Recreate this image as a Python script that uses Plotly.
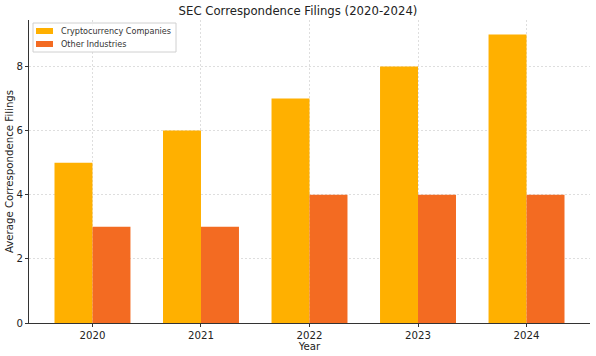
import plotly.graph_objects as go

years = ["2020", "2021", "2022", "2023", "2024"]
crypto = [5, 6, 7, 8, 9]
other = [3, 3, 4, 4, 4]
yticks = [0, 2, 4, 6, 8]
series_names = ["Cryptocurrency Companies", "Other Industries"]
series_colors = ["#FFB000", "#F36B22"]

FONT = "DejaVu Sans"
TXT = "#222"

W, H = 596, 356
ML, MR, MT, MB = 29, 6, 20, 33
PW, PH = W - ML - MR, H - MT - MB


def px(x):
    return (x - ML) / PW


def py(y):
    return (H - MB - y) / PH


fig = go.Figure()
for name, vals, col in zip(series_names, [crypto, other], series_colors):
    fig.add_trace(go.Bar(x=years, y=vals, name=name, showlegend=False,
                         marker=dict(color=col, line=dict(width=0))))

grid = dict(showgrid=True, gridcolor="#dedede", griddash="2px,2px", gridwidth=0.8)

shapes = [dict(type="rect", xref="paper", yref="paper",
               x0=px(33), x1=px(176), y0=py(52), y1=py(23),
               line=dict(color="#d0d0d0", width=1), fillcolor="rgba(255,255,255,0.8)",
               layer="above")]
annotations = []
for i, (name, col) in enumerate(zip(series_names, series_colors)):
    yc = 31 + 13 * i
    shapes.append(dict(type="rect", xref="paper", yref="paper",
                       x0=px(36), x1=px(53), y0=py(yc + 3), y1=py(yc - 3),
                       line=dict(width=0), fillcolor=col, layer="above"))
    annotations.append(dict(text=name, xref="paper", yref="paper",
                            x=px(59), y=py(yc), xanchor="left", yanchor="middle",
                            showarrow=False,
                            font=dict(size=8.1, family=FONT, color="#333")))

fig.update_layout(
    width=W, height=H,
    margin=dict(l=ML, r=MR, t=MT, b=MB),
    paper_bgcolor="white", plot_bgcolor="white",
    barmode="group", bargap=0.3, bargroupgap=0,
    showlegend=False,
    font=dict(family=FONT, color=TXT, size=10),
    title=dict(text="SEC Correspondence Filings (2020-2024)", x=0.5, xanchor="center",
               y=1 - 11/356, yref="container", yanchor="middle",
               font=dict(size=11.7, family=FONT, color=TXT)),
    shapes=shapes,
    annotations=annotations,
    xaxis=dict(type="category", range=[-0.585, 4.585], automargin=False,
               showline=True, linecolor="#333", linewidth=1, mirror=False,
               ticks="outside", ticklen=3, tickcolor="#333",
               layer="above traces",
               tickfont=dict(size=10.2, family=FONT, color=TXT),
               title=dict(text="Year", font=dict(size=10.2, family=FONT, color=TXT), standoff=0),
               **grid),
    yaxis=dict(range=[0, 9.45], tickvals=yticks, automargin=False,
               showline=True, linecolor="#333", linewidth=1,
               ticks="outside", ticklen=3, tickcolor="#333",
               zeroline=False, layer="above traces",
               tickfont=dict(size=10.2, family=FONT, color=TXT),
               title=dict(text="Average Correspondence Filings",
                          font=dict(size=10.2, family=FONT, color=TXT), standoff=0),
               **grid),
)

fig.write_html("out.html", config={"displayModeBar": False},
               post_script="document.body.style.margin='0';document.body.style.padding='0';")
